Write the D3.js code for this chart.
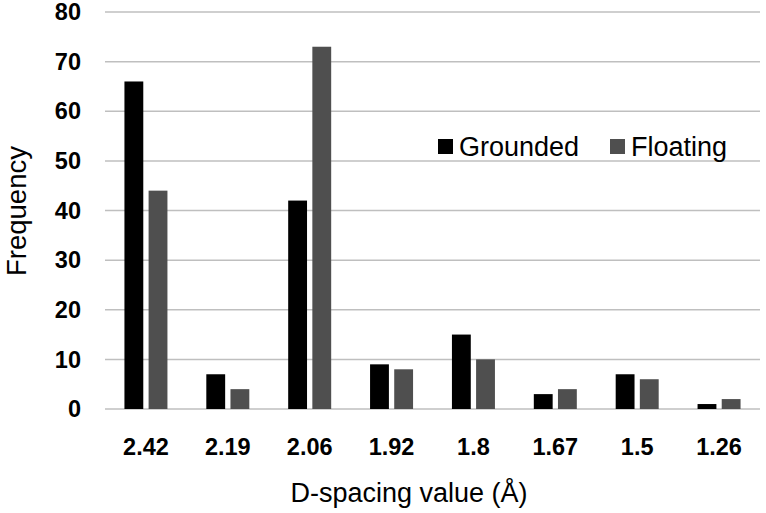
<!DOCTYPE html>
<html><head><meta charset="utf-8">
<script src="https://cdn.jsdelivr.net/npm/d3@7"></script>
<style>body{margin:0;background:#fff}</style>
</head><body>
<svg id="c" width="766" height="513"></svg>
<script>
const categories = ["2.42","2.19","2.06","1.92","1.8","1.67","1.5","1.26"];
const grounded = [66, 7, 42, 9, 15, 3, 7, 1];
const floating = [44, 4, 73, 8, 10, 4, 6, 2];
const seriesNames = ["Grounded","Floating"];
const yTicks = [0,10,20,30,40,50,60,70,80];

const colors = {Grounded:"#000000", Floating:"#4f4f4f"};
const svg = d3.select("#c");
const m = {l:105, r:760, t:12, b:409};
const font = "'Liberation Sans', Arial, sans-serif";

const x = d3.scaleBand().domain(categories).range([m.l, m.r]).paddingInner(0).paddingOuter(0);
const y = d3.scaleLinear().domain([0,80]).range([m.b, m.t]);

// gridlines
svg.append("g").selectAll("line").data(yTicks).join("line")
  .attr("x1", m.l).attr("x2", m.r)
  .attr("y1", d=>y(d)).attr("y2", d=>y(d))
  .attr("stroke", "#bfbfbf").attr("stroke-width", 1.5);

// y tick labels
svg.append("g").selectAll("text").data(yTicks).join("text")
  .attr("x", 81).attr("y", d=>y(d)).attr("dy","0.35em")
  .attr("text-anchor","end").attr("font-family",font).attr("font-weight","bold")
  .attr("font-size",23.5).attr("fill","#000").text(d=>d);

// x tick labels
svg.append("g").selectAll("text").data(categories).join("text")
  .attr("x", d=>x(d)+x.bandwidth()/2).attr("y", 455)
  .attr("text-anchor","middle").attr("font-family",font).attr("font-weight","bold")
  .attr("font-size",23.5).attr("fill","#000").text(d=>d);

const data = categories.map((c,i)=>({cat:c, vals:[{s:"Grounded",v:grounded[i]},{s:"Floating",v:floating[i]}]}));
const x1 = d3.scaleBand().domain(seriesNames).range([0,43]).paddingInner(0.22);
const groups = svg.append("g").selectAll("g").data(data).join("g")
  .attr("transform", d=>`translate(${x(d.cat)+x.bandwidth()/2-21.5},0)`);
groups.selectAll("rect").data(d=>d.vals).join("rect")
  .attr("x", d=>x1(d.s)).attr("width", x1.bandwidth())
  .attr("y", d=>y(d.v)).attr("height", d=>y(0)-y(d.v))
  .attr("fill", d=>colors[d.s]);

// legend
const legend = [{s:"Grounded", x:438}, {s:"Floating", x:610}];
const lg = svg.append("g").selectAll("g").data(legend).join("g");
lg.append("rect").attr("x", d=>d.x).attr("y",139).attr("width",15).attr("height",15)
  .attr("fill", d=>colors[d.s]);
lg.append("text").attr("x", d=>d.x+21).attr("y",156)
  .attr("font-family",font).attr("font-size",27).attr("fill","#000").text(d=>d.s);

// axis titles
svg.append("text").attr("x", 409).attr("y", 502).attr("text-anchor","middle")
  .attr("font-family",font).attr("font-size",27).attr("fill","#000").text("D-spacing value (Å)");
svg.append("text").attr("transform","translate(26,211) rotate(-90)").attr("text-anchor","middle")
  .attr("font-family",font).attr("font-size",27.5).attr("fill","#000").text("Frequency");
</script>
</body></html>
